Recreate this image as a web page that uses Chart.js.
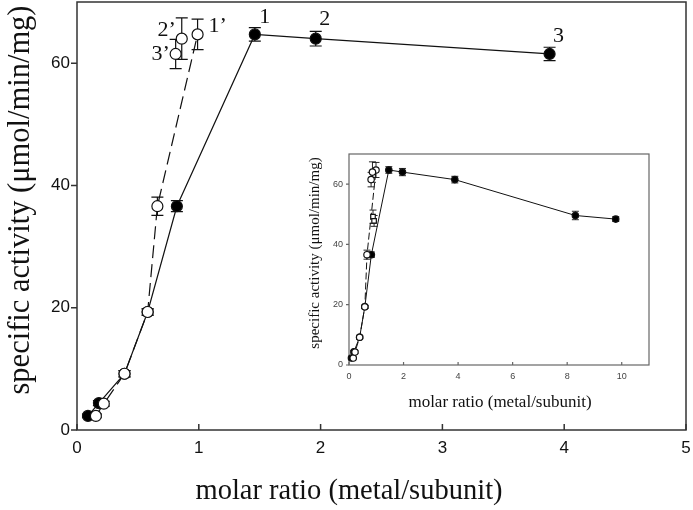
<!DOCTYPE html>
<html>
<head>
<meta charset="utf-8">
<script src="https://cdn.jsdelivr.net/npm/chart.js@4"></script>
<style>
  body { margin: 0; background: #fff; }
  #wrap { position: relative; width: 693px; height: 510px; }
  #mainChart { position: absolute; left: 0; top: 0; }
  #insetChart { position: absolute; left: 300px; top: 140px; }
</style>
</head>
<body>
<div id="wrap">
  <canvas id="mainChart" width="693" height="510"></canvas>
  <canvas id="insetChart" width="360" height="280"></canvas>
</div>
<script>
// filled circles (solid line)
var filledX = [0.09, 0.18, 0.39, 0.58, 0.82, 1.46, 1.96, 3.88];
var filledY = [2.3, 4.4, 9.2, 19.3, 36.6, 64.7, 64.0, 61.5];
var filledErr = [0.3, 0.4, 0.5, 0.5, 0.9, 1.1, 1.2, 1.1];
// extra filled points only in the inset
var tailX = [8.3, 9.78];
var tailY = [49.6, 48.4];
var tailErr = [1.4, 0.8];
// open circles (dashed line)
var openX = [0.155, 0.22, 0.39, 0.58, 0.66, 0.99];
var openY = [2.3, 4.3, 9.2, 19.3, 36.6, 64.7];
var openErr = [0.3, 0.4, 0.5, 0.5, 1.5, 2.5];
// open circles 2' and 3'
var primeX = [0.86, 0.81];
var primeY = [64.0, 61.5];
var primeErr = [3.4, 2.4];
// open squares in the inset
var squareX = [0.88, 0.92];
var squareY = [49.2, 47.8];
var squareErr = [2.2, 1.8];

var labelText = ['1', '2', '3', '1\u2019', '2\u2019', '3\u2019'];
var labelX = [1.46, 1.96, 3.88, 0.99, 0.86, 0.81];
var labelY = [64.7, 64.0, 61.5, 64.7, 64.0, 61.5];

var mainXTicks = [0, 1, 2, 3, 4, 5];
var mainYTicks = [0, 20, 40, 60];
var insetXTicks = [0, 2, 4, 6, 8, 10];
var insetYTicks = [0, 20, 40, 60];

var xTitle = 'molar ratio (metal/subunit)';
var yTitle = 'specific activity (\u03bcmol/min/mg)';

// label offsets in pixels (style only)
var labelOffsets = [[10, -17], [9, -19], [9, -18], [20, -8], [-15, -8], [-15, 0]];

function toPoints(xs, ys) {
  return xs.map(function(x, i) { return { x: x, y: ys[i] }; });
}

var axesPlugin = {
  id: 'axesFrame',
  beforeDatasetsDraw: function(chart, args, opts) {
    var ctx = chart.ctx, a = chart.chartArea;
    var xs = chart.scales.x, ys = chart.scales.y;
    ctx.save();
    ctx.strokeStyle = opts.color;
    ctx.lineWidth = opts.width;
    ctx.strokeRect(a.left, a.top, a.right - a.left, a.bottom - a.top);
    ctx.beginPath();
    xs.ticks.forEach(function(t) {
      var px = xs.getPixelForValue(t.value);
      ctx.moveTo(px, a.bottom);
      ctx.lineTo(px, a.bottom - opts.tickLen);
    });
    ys.ticks.forEach(function(t) {
      var py = ys.getPixelForValue(t.value);
      ctx.moveTo(a.left, py);
      ctx.lineTo(a.left - opts.tickLen, py);
    });
    ctx.stroke();

    // axis titles
    ctx.fillStyle = '#111';
    ctx.textAlign = 'center';
    ctx.textBaseline = 'middle';
    ctx.font = opts.titleFont;
    ctx.fillText(xTitle, opts.xTitlePos[0], opts.xTitlePos[1]);
    ctx.translate(opts.yTitlePos[0], opts.yTitlePos[1]);
    ctx.rotate(-Math.PI / 2);
    ctx.font = opts.yTitleFont;
    ctx.fillText(yTitle, 0, 0);
    ctx.restore();

    // error bars
    ctx.save();
    ctx.strokeStyle = '#111';
    ctx.lineWidth = opts.errWidth;
    chart.data.datasets.forEach(function(ds, di) {
      if (!ds.errors) return;
      var meta = chart.getDatasetMeta(di);
      meta.data.forEach(function(el, i) {
        var v = ds.data[i].y, e = ds.errors[i];
        var top = ys.getPixelForValue(v + e), bot = ys.getPixelForValue(v - e);
        var c = opts.cap;
        ctx.beginPath();
        ctx.moveTo(el.x, top); ctx.lineTo(el.x, bot);
        ctx.moveTo(el.x - c, top); ctx.lineTo(el.x + c, top);
        ctx.moveTo(el.x - c, bot); ctx.lineTo(el.x + c, bot);
        ctx.stroke();
      });
    });
    ctx.restore();
  },
  afterDatasetsDraw: function(chart, args, opts) {
    if (!opts.labels) return;
    var ctx = chart.ctx, xs = chart.scales.x, ys = chart.scales.y;
    ctx.save();
    ctx.fillStyle = '#111';
    ctx.font = '22px "Liberation Serif"';
    ctx.textAlign = 'center';
    ctx.textBaseline = 'middle';
    labelText.forEach(function(t, i) {
      var px = xs.getPixelForValue(labelX[i]) + labelOffsets[i][0];
      var py = ys.getPixelForValue(labelY[i]) + labelOffsets[i][1];
      ctx.fillText(t, px, py);
    });
    ctx.restore();
  }
};

function noPad(s) {
  s.paddingTop = 0; s.paddingBottom = 0; s.paddingLeft = 0; s.paddingRight = 0;
}

function makeScales(xMax, xTicks, yTicks, tickFont, tickColor, yWidth, xHeight, xPad, yPad) {
  return {
    x: {
      type: 'linear', min: 0, max: xMax,
      grid: { display: false, drawTicks: false },
      border: { display: false },
      afterBuildTicks: function(s) { s.ticks = xTicks.map(function(v) { return { value: v }; }); },
      afterFit: function(s) { s.height = xHeight; noPad(s); },
      ticks: { font: tickFont, color: tickColor, padding: xPad, maxRotation: 0 }
    },
    y: {
      type: 'linear', min: 0, max: 70,
      grid: { display: false, drawTicks: false },
      border: { display: false },
      afterBuildTicks: function(s) { s.ticks = yTicks.map(function(v) { return { value: v }; }); },
      afterFit: function(s) { s.width = yWidth; noPad(s); },
      ticks: { font: tickFont, color: tickColor, padding: yPad }
    }
  };
}

function lineSet(xs, ys, errs, opt) {
  return Object.assign({
    data: toPoints(xs, ys),
    errors: errs,
    showLine: true,
    borderColor: '#111',
    borderWidth: 1.2,
    pointBorderColor: '#111',
    pointBorderWidth: 1.2,
    clip: false
  }, opt);
}

new Chart(document.getElementById('mainChart'), {
  type: 'scatter',
  data: {
    datasets: [
      lineSet(filledX, filledY, filledErr, { pointRadius: 5.5, pointBackgroundColor: '#000', order: 2 }),
      lineSet(openX, openY, openErr, { pointRadius: 5.5, pointBackgroundColor: '#fff', borderDash: [13, 6], order: 1 }),
      lineSet(primeX, primeY, primeErr, { pointRadius: 5.5, pointBackgroundColor: '#fff', showLine: false, order: 0 })
    ]
  },
  options: {
    responsive: false,
    animation: false,
    layout: { autoPadding: false, padding: { top: 2, right: 7, left: 0, bottom: 0 } },
    scales: makeScales(5, mainXTicks, mainYTicks, { family: 'Liberation Sans', size: 17 }, '#111', 77, 80, 8, 7),
    plugins: {
      legend: { display: false },
      tooltip: { enabled: false },
      axesFrame: {
        color: '#333', width: 1.5, tickLen: 6, cap: 6, errWidth: 1.2,
        titleFont: '28.5px "Liberation Serif"', yTitleFont: '30.5px "Liberation Serif"',
        xTitlePos: [349, 492], yTitlePos: [21, 200], labels: true
      }
    }
  },
  plugins: [axesPlugin]
});

new Chart(document.getElementById('insetChart'), {
  type: 'scatter',
  data: {
    datasets: [
      lineSet(filledX.concat(tailX), filledY.concat(tailY), filledErr.concat(tailErr), { pointRadius: 3.2, pointBackgroundColor: '#000', borderWidth: 1, order: 3 }),
      lineSet(openX, openY, openErr, { pointRadius: 3.2, pointBackgroundColor: '#fff', borderWidth: 1, borderDash: [7, 3], order: 2 }),
      lineSet(primeX, primeY, primeErr, { pointRadius: 3.2, pointBackgroundColor: '#fff', showLine: false, order: 1 }),
      lineSet(squareX, squareY, squareErr, { pointRadius: 3.2, pointStyle: 'rect', pointBackgroundColor: '#fff', showLine: false, order: 0 })
    ]
  },
  options: {
    responsive: false,
    animation: false,
    layout: { autoPadding: false, padding: { top: 14, right: 11, left: 0, bottom: 0 } },
    scales: makeScales(11, insetXTicks, insetYTicks, { family: 'Liberation Sans', size: 9 }, '#444', 49, 55, 6, 6),
    plugins: {
      legend: { display: false },
      tooltip: { enabled: false },
      axesFrame: {
        color: '#666', width: 1.2, tickLen: 3, cap: 3.5, errWidth: 0.9,
        titleFont: '17px "Liberation Serif"', yTitleFont: '15px "Liberation Serif"',
        xTitlePos: [200, 263], yTitlePos: [15, 113], labels: false
      }
    }
  },
  plugins: [axesPlugin]
});
</script>
</body>
</html>
